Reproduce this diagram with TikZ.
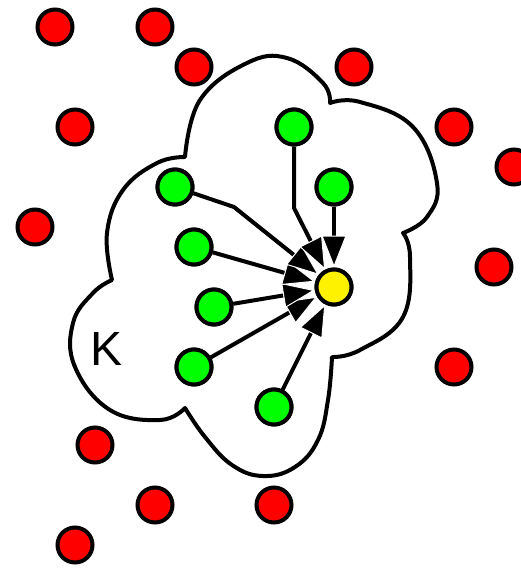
\documentclass[tikz,border=0pt]{standalone}
\usepackage{fontspec}
\setmainfont{Liberation Sans}
\usetikzlibrary{arrows.meta}
\begin{document}
\begin{tikzpicture}[x=1pt,y=-1pt,
  dot/.style={circle,draw=black,line width=4pt,minimum size=35pt,inner sep=0pt},
  reddot/.style={dot,fill=red},
  greendot/.style={dot,fill=green},
  yellowdot/.style={dot,fill=yellow},
  arr/.style={line width=4pt,-{Triangle[length=32pt,width=25pt,fill=black,color=white,line width=1pt]}},
  cloud/.style={line width=4pt,fill=white,line join=round}]
\useasboundingbox (0,0) rectangle (521,568);
% cloud
\draw[cloud] plot[smooth,tension=0.7] coordinates {(185,157) (200,100) (247,63) (287,58) (323,83) (330,103)}
  -- plot[smooth,tension=0.7] coordinates {(330,103) (360,102) (413,127) (437,183) (427,217) (403,233)}
  -- plot[smooth,tension=0.7] coordinates {(403,233) (410,257) (403,317) (360,350) (332,357)}
  -- plot[smooth,tension=0.7] coordinates {(332,357) (328,400) (318,440) (295,467) (263,476) (232,465) (205,437) (185,408)}
  -- plot[smooth,tension=0.7] coordinates {(185,408) (160,420) (110,410) (75,367) (73,323) (93,293) (112,280)}
  -- plot[smooth,tension=0.7] coordinates {(112,280) (107,233) (123,190) (157,163) (185,157)} -- cycle;
\node[font=\fontsize{48}{48}\selectfont] (K) at (107,349) {K};
% red dots
\node[reddot] (r1) at (55,27) {};
\node[reddot] (r2) at (155,27) {};
\node[reddot] (r3) at (194,67) {};
\node[reddot] (r4) at (354,67) {};
\node[reddot] (r5) at (75,127) {};
\node[reddot] (r6) at (454,127) {};
\node[reddot] (r7) at (514,167) {};
\node[reddot] (r8) at (35,227) {};
\node[reddot] (r9) at (494,267) {};
\node[reddot] (r10) at (454,367) {};
\node[reddot] (r11) at (95,445) {};
\node[reddot] (r12) at (155,505) {};
\node[reddot] (r13) at (274,505) {};
\node[reddot] (r14) at (75,545) {};
% green and yellow
\node[yellowdot] (y) at (334,287) {};
\node[greendot] (g1) at (294,127) {};
\node[greendot] (g2) at (334,187) {};
\node[greendot] (g3) at (175,187) {};
\node[greendot] (g4) at (194,247) {};
\node[greendot] (g5) at (214,307) {};
\node[greendot] (g6) at (194,367) {};
\node[greendot] (g7) at (274,407) {};
\coordinate (b1) at (294,208);
\coordinate (b3) at (234,207);
% arrows
\draw[arr] (g7) -- (y);
\draw[arr] (g6) -- (y);
\draw[arr] (g5) -- (y);
\draw[arr] (g4) -- (y);
\draw[arr,line join=round] (g3) -- (b3) -- (y);
\draw[arr,line join=round] (g1) -- (b1) -- (y);
\draw[arr] (g2) -- (y);
% redraw nodes on top
\node[yellowdot] at (y) {};
\node[greendot] at (g1) {};
\node[greendot] at (g2) {};
\node[greendot] at (g3) {};
\node[greendot] at (g4) {};
\node[greendot] at (g5) {};
\node[greendot] at (g6) {};
\node[greendot] at (g7) {};
\end{tikzpicture}
\end{document}
